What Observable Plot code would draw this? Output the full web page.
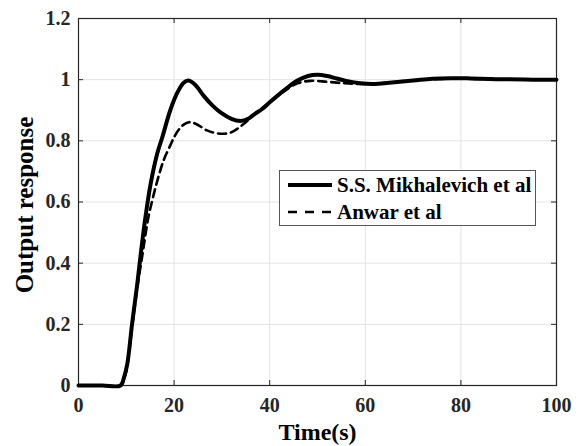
<!DOCTYPE html>
<html>
<head>
<meta charset="utf-8">
<script src="https://cdn.jsdelivr.net/npm/d3@7"></script>
<script src="https://cdn.jsdelivr.net/npm/@observablehq/plot@0.6"></script>
<style>
  html, body { margin: 0; padding: 0; background: #fff; }
  #chart svg text { font-family: 'Liberation Serif', 'Times New Roman', serif !important; font-weight: bold !important; }
</style>
</head>
<body>
<div id="chart"></div>
<script>
// Series 1: S.S. Mikhalevich et al (solid)
const timeA = [0, 5, 8.8, 9.5, 10.2, 11.2, 12.3, 13.1, 14.0, 15.1, 16.5, 17.5, 19.2, 20.6, 22.0, 23.0, 24.5, 26.2, 28, 29.7, 32, 33.9, 35.5, 36.7, 38.5, 40, 43, 45.8, 48, 50, 52, 54, 56, 59, 62, 65, 70, 74, 78, 82, 86, 90, 95, 100];
const valuesA = [0, 0, 0, 0.025, 0.07, 0.2, 0.333, 0.44, 0.55, 0.66, 0.76, 0.81, 0.90, 0.955, 0.99, 0.997, 0.982, 0.947, 0.916, 0.893, 0.872, 0.865, 0.872, 0.886, 0.905, 0.926, 0.965, 0.997, 1.012, 1.016, 1.012, 1.004, 0.996, 0.988, 0.986, 0.99, 0.997, 1.003, 1.005, 1.004, 1.002, 1.001, 1.0, 1.0];
// Series 2: Anwar et al (dashed)
const timeB = [0, 5, 8.8, 9.5, 10.2, 11.2, 12.3, 13.5, 14.5, 15.5, 16.5, 17.8, 19.2, 20, 21, 22, 23.1, 24.5, 26.9, 28.5, 30.4, 32, 33.2, 34.6, 36.7, 40, 43, 45.8, 48.5, 52, 55, 58, 62, 66, 70, 75, 80, 85, 90, 100];
const valuesB = [0, 0, 0, 0.02, 0.065, 0.19, 0.32, 0.44, 0.54, 0.61, 0.67, 0.736, 0.785, 0.812, 0.837, 0.853, 0.861, 0.856, 0.834, 0.826, 0.823, 0.828, 0.839, 0.856, 0.885, 0.926, 0.962, 0.988, 0.996, 0.993, 0.989, 0.986, 0.987, 0.992, 0.998, 1.002, 1.003, 1.002, 1.001, 1.0];

const seriesNames = ["S.S. Mikhalevich et al", "Anwar et al"];
const xTicks = [0, 20, 40, 60, 80, 100];
const xTickLabels = ["0", "20", "40", "60", "80", "100"];
const yTicks = [0, 0.2, 0.4, 0.6, 0.8, 1, 1.2];
const yTickLabels = ["0", "0.2", "0.4", "0.6", "0.8", "1", "1.2"];
const xLabel = "Time(s)";
const yLabel = "Output response";

const dataA = timeA.map((t, i) => ({t, v: valuesA[i]}));
const dataB = timeB.map((t, i) => ({t, v: valuesB[i]}));

const font = "'Liberation Serif', 'Times New Roman', serif";
const axisColor = "#262626";
const gridColor = "#e3e3e3";
const innerX = xTicks.slice(1, -1);
const innerY = yTicks.slice(1, -1);

const chart = Plot.plot({
  width: 581,
  height: 446,
  marginLeft: 78,
  marginRight: 25,
  marginTop: 18,
  marginBottom: 61,
  x: {domain: [0, 100]},
  y: {domain: [0, 1.2]},
  style: {fontFamily: font, background: "#fff", color: axisColor, fontSize: "20px", fontWeight: "bold"},
  marks: [
    Plot.gridX(innerX, {stroke: gridColor, strokeOpacity: 1, strokeWidth: 1}),
    Plot.gridY(innerY, {stroke: gridColor, strokeOpacity: 1, strokeWidth: 1}),
    // inside ticks (bottom, top, left, right)
    Plot.ruleX(xTicks, {x: d => d, y1: 0, y2: 0, insetTop: -5, stroke: axisColor}),
    Plot.ruleX(xTicks, {x: d => d, y1: 1.2, y2: 1.2, insetBottom: -5, stroke: axisColor}),
    Plot.ruleY(yTicks, {y: d => d, x1: 0, x2: 0, insetRight: -5, stroke: axisColor}),
    Plot.ruleY(yTicks, {y: d => d, x1: 100, x2: 100, insetLeft: -5, stroke: axisColor}),
    Plot.frame({stroke: axisColor, strokeWidth: 1.2}),
    Plot.axisX(xTicks, {tickSize: 0, tickPadding: 12, label: null, fontSize: 20, fontWeight: "bold", fill: axisColor,
      tickFormat: (d) => xTickLabels[xTicks.indexOf(d)]}),
    Plot.axisY(yTicks, {tickSize: 0, tickPadding: 8, label: null, fontSize: 20, fontWeight: "bold", fill: axisColor,
      tickFormat: (d) => yTickLabels[yTicks.indexOf(d)]}),
    Plot.line(dataA, {x: "t", y: "v", stroke: "#000", strokeWidth: 4, curve: "catmull-rom"}),
    Plot.line(dataB, {x: "t", y: "v", stroke: "#000", strokeWidth: 2.6, strokeDasharray: "8,5", curve: "catmull-rom"}),
    Plot.text([xLabel], {frameAnchor: "bottom", textAnchor: "middle", lineAnchor: "middle", dy: 47, fontSize: 24, fontWeight: "bold", fill: "#000", text: d => d}),
    Plot.text([yLabel], {frameAnchor: "left", textAnchor: "middle", lineAnchor: "middle", dx: -54, dy: 3, rotate: -90, fontSize: 25, fontWeight: "bold", fill: "#000", text: d => d})
  ]
});

// Legend box inside the plot area
const svg = d3.select(chart);
const lg = svg.append("g").attr("class", "legend");
lg.append("rect").attr("x", 279.5).attr("y", 170.5).attr("width", 256).attr("height", 55)
  .attr("fill", "#fff").attr("stroke", "#555").attr("stroke-width", 1);
const rows = [
  {name: seriesNames[0], y: 185, w: 4, dash: null},
  {name: seriesNames[1], y: 212, w: 2.6, dash: "9,8"}
];
rows.forEach(r => {
  lg.append("line").attr("x1", 288).attr("x2", 332).attr("y1", r.y).attr("y2", r.y)
    .attr("stroke", "#000").attr("stroke-width", r.w).attr("stroke-dasharray", r.dash);
  lg.append("text").attr("x", 337).attr("y", r.y).attr("dy", "0.35em")
    .attr("text-anchor", "start")
    .style("font-size", "21px").attr("fill", "#000")
    .text(r.name);
});

document.getElementById("chart").appendChild(chart);
</script>
</body>
</html>
